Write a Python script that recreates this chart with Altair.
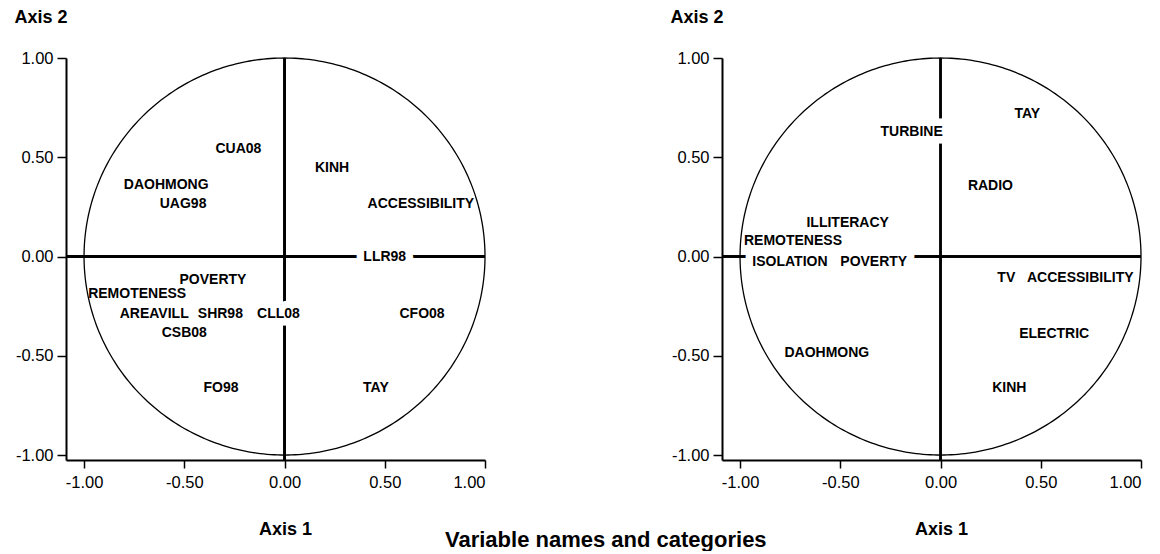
import altair as alt
import numpy as np
import pandas as pd

# ---- data ----
left_labels = ["CUA08", "KINH", "DAOHMONG", "UAG98", "ACCESSIBILITY", "LLR98",
               "POVERTY", "REMOTENESS", "AREAVILL", "SHR98", "CLL08", "CFO08",
               "CSB08", "FO98", "TAY"]
left_x = [-0.23, 0.237, -0.59, -0.506, 0.68, 0.50, -0.357, -0.735, -0.65, -0.32,
          -0.03, 0.686, -0.50, -0.317, 0.456]
left_y = [0.54, 0.446, 0.36, 0.264, 0.264, 0.0, -0.118, -0.19, -0.29, -0.29,
          -0.29, -0.29, -0.385, -0.66, -0.66]

right_labels = ["TAY", "TURBINE", "RADIO", "ILLITERACY", "REMOTENESS", "ISOLATION",
                "POVERTY", "TV", "ACCESSIBILITY", "ELECTRIC", "DAOHMONG", "KINH"]
right_x = [0.433, -0.144, 0.249, -0.463, -0.736, -0.751, -0.333, 0.328, 0.697,
           0.567, -0.567, 0.343]
right_y = [0.718, 0.627, 0.355, 0.17, 0.078, -0.028, -0.028, -0.108, -0.108,
           -0.39, -0.486, -0.662]

tick_values = [-1.0, -0.5, 0.0, 0.5, 1.0]
x_domain = [-1.09, 1.0]
y_domain = [-1.025, 1.0]

# unit correlation circle
theta = np.linspace(0, 2 * np.pi, 361)
circle = pd.DataFrame({"cx": np.cos(theta), "cy": np.sin(theta), "i": np.arange(361)})

FONT = "Liberation Sans"
LABEL_FONT = "Liberation Sans"
LABEL_SIZE = 14

W, H = 419, 402
LABEL_EXPR = "replace(format(datum.value, '.2f'), '\u2212', '-')"


def panel(labels, xs, ys):
    df = pd.DataFrame({"label": labels, "x": xs, "y": ys})
    xsc = alt.Scale(domain=x_domain, nice=False, zero=False)
    ysc = alt.Scale(domain=y_domain, nice=False, zero=False)
    xax = alt.Axis(values=tick_values, labelExpr=LABEL_EXPR, title="Axis 1",
                   titleX=219, titleY=74, titleAlign="center", titleBaseline="alphabetic",
                   tickSize=8, labelPadding=6)
    yax = alt.Axis(values=tick_values, labelExpr=LABEL_EXPR, title="Axis 2",
                   titleAngle=0, titleX=-52, titleY=-36, titleAlign="left",
                   titleBaseline="alphabetic", tickSize=9, labelPadding=4)

    base_x = alt.X("x:Q", scale=xsc, axis=xax)
    base_y = alt.Y("y:Q", scale=ysc, axis=yax)

    points = alt.Chart(df).mark_point(opacity=0).encode(x=base_x, y=base_y)

    vrule = alt.Chart(df).mark_rule(color="black", strokeWidth=1.4).encode(x=alt.datum(0))
    hrule = alt.Chart(df).mark_rule(color="black", strokeWidth=1.4).encode(y=alt.datum(0))

    halo = alt.Chart(df).mark_text(
        font=LABEL_FONT, fontSize=LABEL_SIZE, fontWeight="bold", color="white",
        stroke="white", strokeWidth=15, strokeJoin="round", baseline="middle", align="center"
    ).encode(x="x:Q", y="y:Q", text="label:N")

    circ = alt.Chart(circle).mark_line(color="black", strokeWidth=1.3).encode(
        x=alt.X("cx:Q"), y=alt.Y("cy:Q"), order="i:Q")

    text = alt.Chart(df).mark_text(
        font=LABEL_FONT, fontSize=LABEL_SIZE, fontWeight="bold", color="black",
        baseline="middle", align="center"
    ).encode(x="x:Q", y="y:Q", text="label:N")

    return alt.layer(points, vrule, hrule, halo, circ, text).properties(width=W, height=H)


left = panel(left_labels, left_x, left_y)
right = panel(right_labels, right_x, right_y)

chart = alt.hconcat(left, right, spacing=182).properties(
    title=alt.TitleParams("Variable names and categories", orient="bottom",
                          anchor="middle", fontSize=22, font=FONT, fontWeight="bold",
                          color="black", dx=27, offset=-8),
    padding={"left": 6, "top": 0, "right": 0, "bottom": 0},
).configure_view(stroke=None).configure_axis(
    grid=False, domainColor="black", domainWidth=2, tickColor="black", tickWidth=1.5,
    labelFont=FONT, labelFontSize=16.5, labelColor="black",
    titleFont=FONT, titleFontSize=18, titleFontWeight="bold", titleColor="black",
)

chart.save("out.html", embed_options={"renderer": "svg", "actions": False})
